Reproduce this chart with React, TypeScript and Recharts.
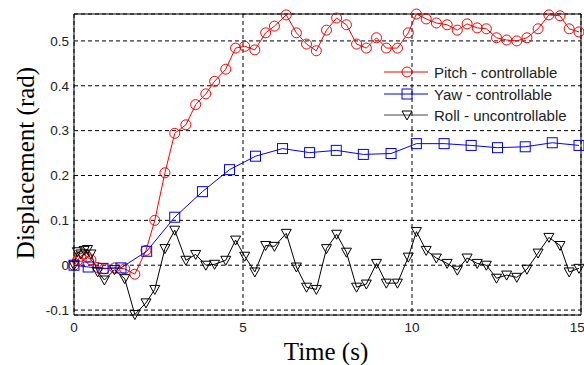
import { LineChart, Line, XAxis, YAxis, CartesianGrid, ReferenceArea, Label } from "recharts";

// pitch and roll share the fast sampling, yaw is sampled slower
const fastTime = [
    0, 0.1, 0.2, 0.3, 0.4, 0.5, 0.7, 0.9, 1.2, 1.5, 1.8, 2.13, 2.39, 2.69, 2.98, 3.31, 3.6, 3.9, 4.16, 4.49,
    4.78, 5.05, 5.35, 5.67, 5.93, 6.28, 6.58, 6.88, 7.17, 7.47, 7.77, 8.06, 8.36, 8.65, 8.95, 9.24, 9.57, 9.89,
    10.13, 10.42, 10.72, 11.04, 11.34, 11.63, 11.93, 12.2, 12.5, 12.8, 13.1, 13.4, 13.73, 14.05, 14.38, 14.65, 14.94,
];
const pitch = [
    0, 0.01, 0.02, 0.025, 0.018, 0.012, -0.005, -0.008, -0.006, -0.008, -0.02, 0.033, 0.1, 0.206, 0.294, 0.313,
    0.358, 0.382, 0.41, 0.437, 0.484, 0.488, 0.48, 0.518, 0.533, 0.558, 0.518, 0.493, 0.478, 0.524, 0.551, 0.536,
    0.493, 0.484, 0.507, 0.484, 0.484, 0.518, 0.56, 0.549, 0.54, 0.536, 0.524, 0.538, 0.529, 0.527, 0.507, 0.502,
    0.5, 0.507, 0.527, 0.558, 0.556, 0.527, 0.52,
];
const roll = [
    0, 0.03, 0.025, 0.033, 0.035, 0.025, -0.015, -0.033, -0.01, -0.03, -0.11, -0.084, -0.054, 0.037, 0.078, 0.011,
    0.024, 0, 0.002, 0.011, 0.056, 0.02, -0.015, 0.044, 0.042, 0.071, -0.004, -0.049, -0.054, 0.037, 0.069, 0.029,
    -0.049, -0.042, 0.004, -0.04, -0.04, 0.018, 0.075, 0.033, 0.016, 0.004, -0.011, 0.016, 0.004, 0, -0.029, -0.022,
    -0.027, -0.009, 0.027, 0.062, 0.044, -0.015, -0.007,
];
const slowTime = [0, 0.42, 0.86, 1.39, 2.15, 2.98, 3.8, 4.6, 5.37, 6.17, 6.97, 7.76, 8.56, 9.38, 10.13, 10.95, 11.75, 12.53, 13.35, 14.15, 14.94];
const yaw = [0, -0.004, -0.007, -0.006, 0.031, 0.107, 0.164, 0.213, 0.243, 0.26, 0.251, 0.256, 0.247, 0.249, 0.271, 0.271, 0.267, 0.262, 0.264, 0.273, 0.267];

const xTicks = [0, 5, 10, 15];
const yTicks = [-0.1, 0, 0.1, 0.2, 0.3, 0.4, 0.5];

const legendItems = [
    { name: "Pitch - controllable", color: "#ff0000", marker: "circle" },
    { name: "Yaw - controllable", color: "#0000ff", marker: "square" },
    { name: "Roll - uncontrollable", color: "#000000", marker: "triangle" },
];

const fastData = fastTime.map((t, i) => ({ t, pitch: pitch[i], roll: roll[i] }));
const slowData = slowTime.map((t, i) => ({ t, yaw: yaw[i] }));

function Marker({ kind, cx, cy, color }: { kind: string; cx: number; cy: number; color: string }) {
    if (kind === "circle") return <circle cx={cx} cy={cy} r={5} fill="none" stroke={color} />;
    if (kind === "square") return <rect x={cx - 5} y={cy - 5} width={10} height={10} fill="none" stroke={color} />;
    return <path d={`M${cx - 5},${cy - 4}L${cx + 5},${cy - 4}L${cx},${cy + 5}Z`} fill="none" stroke={color} />;
}

const dotFor = (kind: string, color: string) => (p: any) =>
    <Marker key={`${kind}-${p.index}`} kind={kind} cx={p.cx} cy={p.cy} color={color} />;

const tickStyle = { fill: "#222", fontSize: 13.5, fontFamily: "Liberation Sans, Arial, sans-serif" };
const serif = "Liberation Serif, Times New Roman, serif";

export default function App() {
    return (
        <div style={{ position: "absolute", left: 0, top: 0, width: 584, height: 365, background: "#fff" }}>
            <LineChart width={584} height={365} margin={{ top: 14, right: 3, bottom: 0, left: 0 }}>
                <CartesianGrid stroke="#000" strokeDasharray="4 3" />
                <XAxis
                    dataKey="t"
                    type="number"
                    domain={[0, 15]}
                    ticks={xTicks}
                    height={50}
                    tickLine={false}
                    axisLine={false}
                    tickSize={0}
                    tickMargin={7}
                    tick={tickStyle}
                    allowDuplicatedCategory={false}
                >
                    <Label
                        content={() => (
                            <text x={326} y={360} textAnchor="middle" fontSize={25} fontFamily={serif} fill="#000">
                                Time (s)
                            </text>
                        )}
                    />
                </XAxis>
                <YAxis
                    type="number"
                    domain={[-0.111, 0.56]}
                    ticks={yTicks}
                    width={74}
                    tickLine={false}
                    axisLine={false}
                    tickSize={0}
                    tickMargin={5}
                    tick={tickStyle}
                >
                    <Label
                        content={() => (
                            <text
                                x={25}
                                y={163}
                                transform="rotate(-90 25 163)"
                                textAnchor="middle"
                                dominantBaseline="central"
                                fontSize={25}
                                fontFamily={serif}
                                fill="#000"
                            >
                                Displacement (rad)
                            </text>
                        )}
                    />
                </YAxis>
                <ReferenceArea x1={0} x2={15} y1={-0.111} y2={0.56} fill="none" stroke="#000" strokeWidth={1} />
                <Line
                    data={fastData}
                    dataKey="pitch"
                    stroke="#ff0000"
                    strokeWidth={1}
                    dot={dotFor("circle", "#ff0000")}
                    activeDot={false}
                    isAnimationActive={false}
                />
                <Line
                    data={slowData}
                    dataKey="yaw"
                    stroke="#0000ff"
                    strokeWidth={1}
                    dot={dotFor("square", "#0000ff")}
                    activeDot={false}
                    isAnimationActive={false}
                />
                <Line
                    data={fastData}
                    dataKey="roll"
                    stroke="#000000"
                    strokeWidth={1}
                    dot={dotFor("triangle", "#000000")}
                    activeDot={false}
                    isAnimationActive={false}
                />
            </LineChart>
            <svg
                width={204}
                height={70}
                style={{ position: "absolute", left: 380, top: 60, pointerEvents: "none" }}
            >
                {legendItems.map((item, i) => {
                    const y = [12, 34, 55][i];
                    return (
                        <g key={item.name}>
                            <line x1={4} x2={48} y1={y} y2={y} stroke={item.color === "#000000" ? "#444" : item.color} />
                            <Marker kind={item.marker} cx={27} cy={y} color={item.color} />
                            <text
                                x={54}
                                y={y}
                                dominantBaseline="central"
                                fontSize={15}
                                fontFamily="Liberation Sans, Arial, sans-serif"
                                fill="#222"
                            >
                                {item.name}
                            </text>
                        </g>
                    );
                })}
            </svg>
        </div>
    );
}
